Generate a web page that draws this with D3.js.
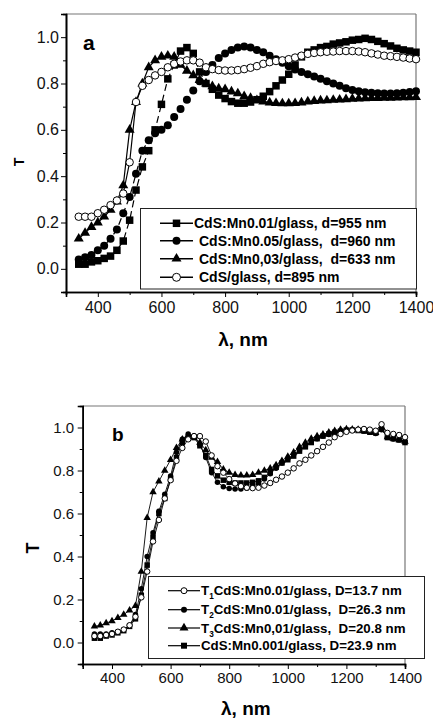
<!DOCTYPE html>
<html>
<head>
<meta charset="utf-8">
<script src="https://cdn.jsdelivr.net/npm/d3@7"></script>
<style>
  body { margin: 0; background: #fff; }
  svg { font-family: Arial, "Liberation Sans", sans-serif; }
  text { white-space: pre; }
</style>
</head>
<body>
<script>
// wavelength grid, nm (shared by every curve)
const wavelengths = [340, 360, 380, 400, 420, 440, 460, 480, 500, 520,
  540, 560, 580, 600, 620, 640, 660, 680, 700, 720,
  740, 760, 780, 800, 820, 840, 860, 880, 900, 920,
  940, 960, 980, 1000, 1020, 1040, 1060, 1080, 1100, 1120,
  1140, 1160, 1180, 1200, 1220, 1240, 1260, 1280, 1300, 1320,
  1340, 1360, 1380, 1400];

// panel a
const aMn001 = [0.02, 0.02, 0.03, 0.035, 0.045, 0.055, 0.08, 0.12, 0.21, 0.34,
  0.44, 0.51, 0.60, 0.71, 0.82, 0.88, 0.94, 0.955, 0.93, 0.85,
  0.80, 0.775, 0.75, 0.735, 0.722, 0.715, 0.715, 0.72, 0.73, 0.745,
  0.765, 0.79, 0.815, 0.84, 0.88, 0.915, 0.935, 0.945, 0.955, 0.96,
  0.97, 0.975, 0.98, 0.987, 0.99, 0.995, 0.99, 0.982, 0.972, 0.962,
  0.952, 0.945, 0.94, 0.935];
const aMn005 = [0.04, 0.05, 0.06, 0.08, 0.10, 0.13, 0.17, 0.24, 0.31, 0.41,
  0.51, 0.555, 0.585, 0.60, 0.62, 0.655, 0.69, 0.73, 0.77, 0.81,
  0.85, 0.88, 0.91, 0.93, 0.945, 0.955, 0.96, 0.955, 0.945, 0.935,
  0.92, 0.905, 0.89, 0.875, 0.86, 0.85, 0.84, 0.83, 0.82, 0.81,
  0.80, 0.79, 0.78, 0.772, 0.767, 0.762, 0.76, 0.758, 0.757, 0.757,
  0.758, 0.76, 0.763, 0.767];
const aMn003 = [0.13, 0.155, 0.18, 0.20, 0.225, 0.255, 0.29, 0.36, 0.60, 0.72,
  0.80, 0.87, 0.90, 0.915, 0.92, 0.915, 0.88, 0.855, 0.835, 0.815,
  0.80, 0.788, 0.778, 0.775, 0.765, 0.757, 0.745, 0.737, 0.728, 0.722,
  0.718, 0.715, 0.714, 0.714, 0.715, 0.718, 0.722, 0.724, 0.726, 0.727,
  0.729, 0.73, 0.732, 0.734, 0.735, 0.736, 0.737, 0.737, 0.738, 0.738,
  0.739, 0.74, 0.74, 0.741];
const aCdS = [0.225, 0.225, 0.225, 0.24, 0.255, 0.275, 0.295, 0.325, 0.46, 0.72,
  0.79, 0.815, 0.835, 0.85, 0.87, 0.885, 0.895, 0.90, 0.90, 0.89,
  0.87, 0.862, 0.858, 0.856, 0.856, 0.858, 0.862, 0.868, 0.875, 0.885,
  0.892, 0.897, 0.90, 0.905, 0.912, 0.92, 0.928, 0.932, 0.935, 0.937,
  0.938, 0.94, 0.94, 0.94, 0.938, 0.935, 0.93, 0.925, 0.92, 0.918,
  0.915, 0.912, 0.908, 0.905];

// panel b
const bT1 = [0.03, 0.03, 0.035, 0.04, 0.05, 0.06, 0.08, 0.12, 0.21, 0.33,
  0.47, 0.57, 0.67, 0.755, 0.845, 0.905, 0.945, 0.96, 0.96, 0.935,
  0.87, 0.82, 0.79, 0.76, 0.74, 0.727, 0.72, 0.718, 0.72, 0.73,
  0.742, 0.757, 0.772, 0.79, 0.81, 0.833, 0.85, 0.87, 0.89, 0.91,
  0.93, 0.955, 0.97, 0.98, 0.986, 0.99, 0.993, 0.99, 0.985, 1.015,
  0.975, 0.97, 0.965, 0.955];
const bT2 = [0.04, 0.04, 0.04, 0.045, 0.05, 0.06, 0.08, 0.13, 0.25, 0.40,
  0.51, 0.61, 0.69, 0.775, 0.885, 0.945, 0.97, 0.96, 0.92, 0.86,
  0.79, 0.745, 0.725, 0.716, 0.714, 0.714, 0.718, 0.725, 0.74, 0.76,
  0.785, 0.81, 0.835, 0.855, 0.875, 0.895, 0.915, 0.935, 0.948, 0.96,
  0.968, 0.977, 0.983, 0.987, 0.99, 0.988, 0.985, 0.98, 0.972, 0.99,
  0.955, 0.947, 0.943, 0.937];
const bT3 = [0.075, 0.08, 0.09, 0.10, 0.115, 0.13, 0.15, 0.17, 0.33, 0.58,
  0.70, 0.75, 0.80, 0.85, 0.905, 0.945, 0.96, 0.955, 0.93, 0.895,
  0.86, 0.84, 0.805, 0.79, 0.78, 0.777, 0.777, 0.78, 0.79, 0.80,
  0.81, 0.825, 0.845, 0.865, 0.885, 0.91, 0.93, 0.948, 0.96, 0.968,
  0.977, 0.984, 0.99, 0.993, 0.992, 0.99, 0.985, 0.98, 0.975, 1.0,
  0.955, 0.948, 0.942, 0.935];
const bMn0001 = [0.02, 0.02, 0.03, 0.035, 0.045, 0.055, 0.075, 0.11, 0.22, 0.36,
  0.49, 0.60, 0.67, 0.76, 0.86, 0.93, 0.955, 0.953, 0.915, 0.87,
  0.805, 0.775, 0.755, 0.745, 0.742, 0.742, 0.742, 0.745, 0.752, 0.768,
  0.79, 0.815, 0.835, 0.85, 0.867, 0.89, 0.91, 0.93, 0.948, 0.96,
  0.97, 0.978, 0.983, 0.988, 0.988, 0.986, 0.983, 0.978, 0.975, 0.993,
  0.953, 0.948, 0.942, 0.93];

const legendA = ['CdS:Mn0.01/glass, d=955 nm', 'CdS:Mn0.05/glass,  d=960 nm',
  'CdS:Mn0,03/glass,  d=633 nm', 'CdS/glass, d=895 nm'];
const legendBHead = ['T', 'T', 'T', ''];
const legendBSub = ['1', '2', '3', ''];
const legendBText = ['CdS:Mn0.01/glass, D=13.7 nm', 'CdS:Mn0.01/glass,  D=26.3 nm',
  'CdS:Mn0,01/glass,  D=20.8 nm', 'CdS:Mn0.001/glass, D=23.9 nm'];

const xTicks = [400, 600, 800, 1000, 1200, 1400];
const xMinorTicks = [300, 500, 700, 900, 1100, 1300];
const yTicks = [0, 0.2, 0.4, 0.6, 0.8, 1.0];
const yMinorTicks = [0.1, 0.3, 0.5, 0.7, 0.9];

const svg = d3.select('body').append('svg').attr('width', 433).attr('height', 718);

function symbolFor(shape, size) {
  const types = { square: d3.symbolSquare, circle: d3.symbolCircle, triangle: d3.symbolTriangle };
  const area = shape === 'square' ? size * size
    : shape === 'circle' ? Math.PI * size * size / 4
    : size * size * Math.sqrt(3) / 4;
  return d3.symbol().type(types[shape]).size(area)();
}

function drawPanel(p) {
  const x = d3.scaleLinear().domain([300, 1400]).range([p.left, p.right]);
  const y = d3.scaleLinear().domain([-0.1, 1.1]).range([p.bottom, p.top]);
  const g = svg.append('g');

  // top / right frame, lighter
  g.append('line').attr('x1', p.left).attr('x2', p.right).attr('y1', p.top).attr('y2', p.top)
    .attr('stroke', '#777').attr('stroke-width', 1.2);
  g.append('line').attr('x1', p.right).attr('x2', p.right).attr('y1', p.top).attr('y2', p.bottom)
    .attr('stroke', '#777').attr('stroke-width', 1.2);

  const styleAxis = sel => {
    sel.select('.domain').attr('stroke', '#000').attr('stroke-width', 1.6);
    sel.selectAll('.tick line').attr('stroke', '#000').attr('stroke-width', 1);
    sel.selectAll('.tick text').attr('fill', '#111').attr('font-size', p.tickFont);
  };

  g.append('g').attr('transform', `translate(0,${p.bottom})`)
    .call(d3.axisBottom(x).tickValues(xMinorTicks).tickSize(3).tickFormat(''))
    .call(styleAxis);
  g.append('g').attr('transform', `translate(0,${p.bottom})`)
    .call(d3.axisBottom(x).tickValues(xTicks).tickSize(5).tickPadding(p.xPad).tickFormat(d3.format('d')))
    .call(styleAxis);
  g.append('g').attr('transform', `translate(${p.left},0)`)
    .call(d3.axisLeft(y).tickValues(yMinorTicks).tickSize(3).tickFormat(''))
    .call(styleAxis);
  g.append('g').attr('transform', `translate(${p.left},0)`)
    .call(d3.axisLeft(y).tickValues(yTicks).tickSize(5).tickPadding(p.yPad).tickFormat(d3.format('.1f')))
    .call(styleAxis);

  // curves
  const line = d3.line().x(d => x(d[0])).y(d => y(d[1]));
  p.series.forEach(s => {
    const pts = wavelengths.map((w, i) => [w, s.values[i]]);
    g.append('path').datum(pts).attr('d', line).attr('fill', 'none')
      .attr('stroke', '#000').attr('stroke-width', p.lineWidth)
      .attr('stroke-dasharray', s.dash || null);
    g.append('g').selectAll('path').data(pts).join('path')
      .attr('transform', d => `translate(${x(d[0])},${y(d[1])})`)
      .attr('d', symbolFor(s.shape, s.size))
      .attr('fill', s.open ? '#fff' : '#000')
      .attr('stroke', s.open ? '#000' : 'none')
      .attr('stroke-width', 1);
  });

  // panel letter and axis titles
  g.append('text').attr('x', p.letterX).attr('y', p.letterY).attr('font-size', p.letterFont)
    .attr('font-weight', 'bold').text(p.letter);
  g.append('text').attr('x', (p.left + p.right) / 2 + 2).attr('y', p.xTitleY)
    .attr('text-anchor', 'middle').attr('font-size', 19).attr('font-weight', 'bold').text('λ, nm');
  g.append('text').attr('transform', `translate(${p.yTitleX},${p.yTitleY}) rotate(-90)`)
    .attr('text-anchor', 'middle').attr('font-size', p.yTitleFont).attr('font-weight', 'bold').text('T');

  // legend
  const L = p.legend;
  const lg = g.append('g');
  lg.append('rect').attr('x', L.x).attr('y', L.y).attr('width', L.w).attr('height', L.h)
    .attr('fill', '#fff').attr('stroke', '#222').attr('stroke-width', 1);
  p.series.slice().sort((a, b) => a.order - b.order).forEach((s, i) => {
    const cy = L.rows[i];
    lg.append('line').attr('x1', L.lineX0).attr('x2', L.lineX1).attr('y1', cy).attr('y2', cy)
      .attr('stroke', '#000').attr('stroke-width', p.lineWidth + 0.3);
    lg.append('path').attr('transform', `translate(${(L.lineX0 + L.lineX1) / 2},${cy})`)
      .attr('d', symbolFor(s.shape, s.legendSize))
      .attr('fill', s.open ? '#fff' : '#000')
      .attr('stroke', s.open ? '#000' : 'none').attr('stroke-width', 1);
    const t = lg.append('text').attr('x', L.textX[i]).attr('y', cy).attr('dy', '0.36em')
      .attr('font-size', L.font).attr('font-weight', 'bold').attr('fill', '#000');
    if (s.head) {
      t.append('tspan').text(s.head);
      t.append('tspan').attr('font-size', L.font * 0.62).attr('dy', 4).text(s.sub);
      t.append('tspan').attr('dy', -4).text(s.label);
    } else {
      t.text(s.label);
    }
  });
}

drawPanel({
  left: 66, right: 416, top: 14, bottom: 292,
  tickFont: 16, xPad: 5, yPad: 2, lineWidth: 1.2,
  letter: 'a', letterX: 83, letterY: 50, letterFont: 21,
  xTitleY: 346, yTitleX: 24, yTitleY: 162, yTitleFont: 14,
  series: [
    { values: aMn003, shape: 'triangle', size: 10, legendSize: 10, order: 2, label: legendA[2] },
    { values: aMn005, shape: 'circle', size: 8, legendSize: 8, order: 1, dash: '7,4', label: legendA[1] },
    { values: aMn001, shape: 'square', size: 7.5, legendSize: 7.5, order: 0, dash: '7,4', label: legendA[0] },
    { values: aCdS, shape: 'circle', size: 7.5, legendSize: 8, order: 3, open: true, label: legendA[3] }
  ],
  legend: { x: 140.5, y: 208.5, w: 276, h: 80.5, font: 14, lineX0: 160, lineX1: 193,
    rows: [223.3, 240.7, 258.7, 277.3], textX: [194, 199, 199, 199] }
});

drawPanel({
  left: 82.7, right: 405, top: 406, bottom: 664,
  tickFont: 15, xPad: 3, yPad: 3.5, lineWidth: 0.9,
  letter: 'b', letterX: 112, letterY: 441, letterFont: 19,
  xTitleY: 715, yTitleX: 39, yTitleY: 548, yTitleFont: 18,
  series: [
    { values: bMn0001, shape: 'square', size: 5.5, legendSize: 6, order: 3, head: legendBHead[3], sub: legendBSub[3], label: legendBText[3] },
    { values: bT3, shape: 'triangle', size: 7.5, legendSize: 9, order: 2, head: legendBHead[2], sub: legendBSub[2], label: legendBText[2] },
    { values: bT2, shape: 'circle', size: 5.5, legendSize: 6, order: 1, head: legendBHead[1], sub: legendBSub[1], label: legendBText[1] },
    { values: bT1, shape: 'circle', size: 5.5, legendSize: 6, order: 0, open: true, head: legendBHead[0], sub: legendBSub[0], label: legendBText[0] }
  ],
  legend: { x: 148.5, y: 576.5, w: 276, h: 82, font: 13.3, lineX0: 168, lineX1: 200,
    rows: [590.7, 609.7, 628, 645.7], textX: [201, 201, 201, 201] }
});
</script>
</body>
</html>
